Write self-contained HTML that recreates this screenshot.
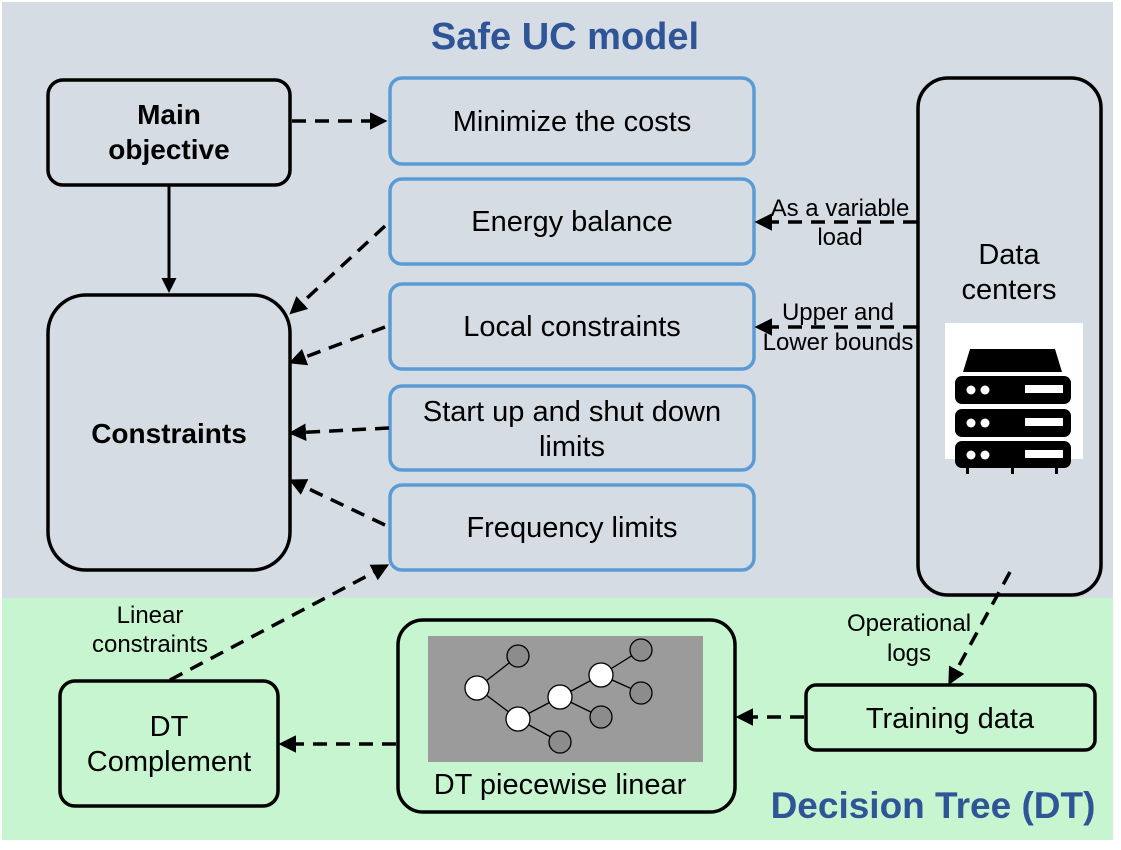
<!DOCTYPE html>
<html><head><meta charset="utf-8"><style>html,body{margin:0;padding:0;background:#fff}svg{display:block}text{font-family:"Liberation Sans",sans-serif}</style></head><body>
<svg width="1121" height="850" viewBox="0 0 1121 850" xmlns="http://www.w3.org/2000/svg">
<defs>
<marker id="a" viewBox="0 0 10 10" refX="8" refY="5" markerWidth="5" markerHeight="5" orient="auto"><path d="M0,0 L10,5 L0,10 z" fill="#000"/></marker>
</defs>
<rect x="2" y="2" width="1111" height="596" fill="#d6dce4"/>
<rect x="2" y="598" width="1111" height="242" fill="#c6f5d0"/>
<text x="565" y="49" font-size="38" font-weight="bold" fill="#2f5597" text-anchor="middle">Safe UC model</text>
<text x="933" y="818" font-size="37" font-weight="bold" fill="#2f5597" text-anchor="middle">Decision Tree (DT)</text>

<g fill="none" stroke="#000" stroke-width="3.5">
<rect x="48" y="80" width="242" height="105" rx="15"/>
<rect x="48" y="295" width="242" height="275" rx="38"/>
<rect x="918" y="78" width="183" height="517" rx="30"/>
<rect x="806" y="685" width="289" height="65" rx="10"/>
<rect x="398" y="620" width="337" height="192" rx="25"/>
<rect x="60" y="681" width="218" height="125" rx="15"/>
</g>
<g fill="none" stroke="#5b9bd5" stroke-width="3.5">
<rect x="390" y="78" width="364" height="86" rx="12"/>
<rect x="390" y="179" width="364" height="85" rx="12"/>
<rect x="390" y="284" width="364" height="85" rx="12"/>
<rect x="390" y="386" width="364" height="84" rx="12"/>
<rect x="390" y="485" width="364" height="85" rx="12"/>
</g>

<g font-size="29" text-anchor="middle" fill="#000">
<text x="169" y="124" font-weight="bold" font-size="28">Main</text>
<text x="169" y="159" font-weight="bold" font-size="28">objective</text>
<text x="169" y="443" font-weight="bold" font-size="28">Constraints</text>
<text x="572" y="131">Minimize the costs</text>
<text x="572" y="231">Energy balance</text>
<text x="572" y="336">Local constraints</text>
<text x="572" y="421">Start up and shut down</text>
<text x="572" y="456">limits</text>
<text x="572" y="537">Frequency limits</text>
<text x="1009" y="264">Data</text>
<text x="1009" y="299">centers</text>
<text x="950" y="728">Training data</text>
<text x="560" y="794">DT piecewise linear</text>
<text x="169" y="736">DT</text>
<text x="169" y="771">Complement</text>
</g>
<g font-size="24" text-anchor="middle" fill="#000">
<text x="840" y="216">As a variable</text>
<text x="840" y="245">load</text>
<text x="838" y="320">Upper and</text>
<text x="838" y="350">Lower bounds</text>
<text x="150" y="623">Linear</text>
<text x="150" y="652">constraints</text>
<text x="909" y="631">Operational</text>
<text x="909" y="661">logs</text>
</g>

<rect x="945" y="323" width="138" height="136" fill="#fff"/>
<path d="M970,349 L1055,349 L1062,372 L963,372 Z" fill="#000"/>
<g fill="#000">
<rect x="955" y="376" width="116" height="28" rx="7"/>
<rect x="955" y="409" width="116" height="28" rx="7"/>
<rect x="955" y="441" width="116" height="27" rx="7"/>
<rect x="966" y="466" width="3" height="8"/><rect x="1011" y="466" width="3" height="8"/><rect x="1055" y="466" width="3" height="8"/>
</g>
<g fill="#fff">
<circle cx="971" cy="390" r="4.5"/><circle cx="985" cy="390" r="4.5"/><rect x="1025" y="385" width="38" height="8"/>
<circle cx="971" cy="423" r="4.5"/><circle cx="985" cy="423" r="4.5"/><rect x="1025" y="418" width="38" height="8"/>
<circle cx="971" cy="455" r="4.5"/><circle cx="985" cy="455" r="4.5"/><rect x="1025" y="450" width="38" height="8"/>
</g>

<rect x="428" y="636" width="275" height="126" fill="#9b9b9b"/>
<g stroke="#000" stroke-width="1.3">
<line x1="477" y1="688" x2="518" y2="656"/><line x1="477" y1="688" x2="518" y2="719"/>
<line x1="518" y1="719" x2="560" y2="697"/><line x1="518" y1="719" x2="560" y2="742"/>
<line x1="560" y1="697" x2="601" y2="675"/><line x1="560" y1="697" x2="601" y2="717"/>
<line x1="601" y1="675" x2="641" y2="650"/><line x1="601" y1="675" x2="641" y2="693"/>
</g>
<g stroke="#000" stroke-width="1.3">
<circle cx="518" cy="656" r="11" fill="#8c8c8c"/><circle cx="560" cy="742" r="11" fill="#8c8c8c"/>
<circle cx="601" cy="717" r="11" fill="#8c8c8c"/><circle cx="641" cy="650" r="11" fill="#8c8c8c"/><circle cx="641" cy="693" r="11" fill="#8c8c8c"/>
<circle cx="477" cy="688" r="12" fill="#fff"/><circle cx="518" cy="719" r="12" fill="#fff"/>
<circle cx="560" cy="697" r="12" fill="#fff"/><circle cx="601" cy="675" r="12" fill="#fff"/>
</g>

<line x1="169" y1="185" x2="169" y2="290" stroke="#000" stroke-width="3" marker-end="url(#a)"/>
<g stroke="#000" stroke-width="3.5" stroke-dasharray="14,9" fill="none" marker-end="url(#a)">
<line x1="292" y1="121" x2="384" y2="121"/>
<line x1="385" y1="226" x2="292" y2="312"/>
<line x1="385" y1="327" x2="292" y2="362"/>
<line x1="389" y1="428" x2="292" y2="433"/>
<line x1="385" y1="525" x2="292" y2="481"/>
<line x1="170" y1="680" x2="386" y2="566"/>
<line x1="917" y1="222" x2="758" y2="222"/>
<line x1="917" y1="327" x2="758" y2="327"/>
<line x1="1010" y1="572" x2="950" y2="682"/>
<line x1="804" y1="717" x2="739" y2="717"/>
<line x1="396" y1="744" x2="282" y2="744"/>
</g>
</svg>
</body></html>
